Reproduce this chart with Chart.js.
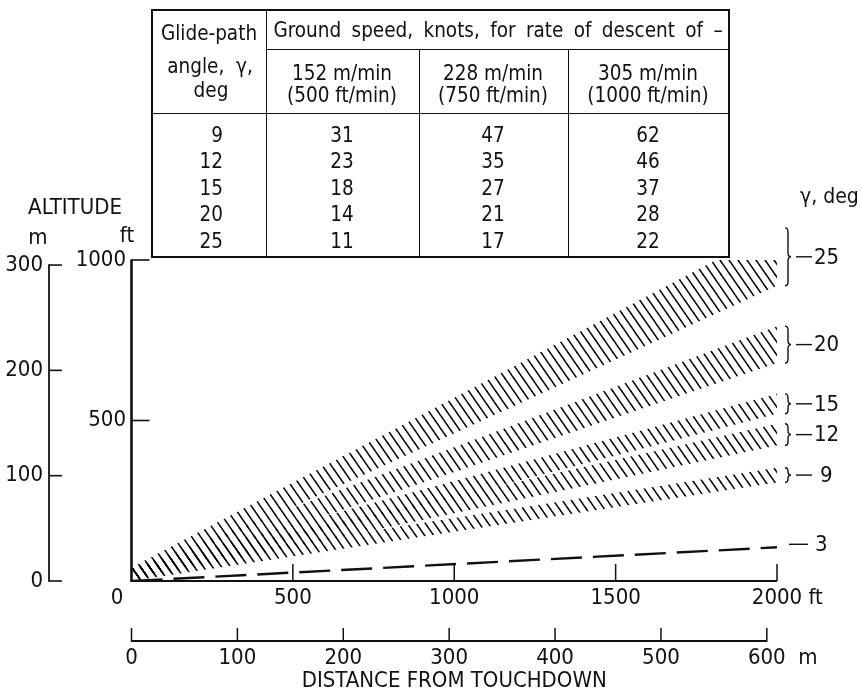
<!DOCTYPE html>
<html>
<head>
<meta charset="utf-8">
<title>Glide-path angles near touchdown</title>
<script src="https://cdn.jsdelivr.net/npm/chart.js@4.4.1/dist/chart.umd.min.js"></script>
<style>
  html, body { margin: 0; padding: 0; background: #fff; }
  #wrap { position: relative; width: 862px; height: 695px; overflow: hidden; }
  #chart { position: absolute; left: 0; top: 0; }
  #speedTable { position: absolute; left: 0; top: 0; width: 862px; height: 260px; pointer-events: none; }
  .rule { position: absolute; background: #111; }
  .cell { position: absolute; white-space: pre; color: #111; line-height: 1;
          font-family: "DejaVu Sans Condensed", "Liberation Sans Narrow", sans-serif; font-size: 20.5px; }
  .wide { word-spacing: 4.5px; }
</style>
</head>
<body>
<div id="wrap">
  <canvas id="chart" width="862" height="695"></canvas>
  <div id="speedTable"></div>
</div>
<script>
// ---- Data -------------------------------------------------------------
// Distance from touchdown (ft) at which each edge altitude is given
const distanceFt = [0, 2000];

// Glide-path bands: angle label, lower / upper edge altitude (ft) at each distance
const bandAngles  = [9, 12, 15, 20, 25];
const bandLowerFt = [[0, 307], [0, 422], [0, 521], [0, 679], [0, 920]];
const bandUpperFt = [[40, 353], [40, 490], [40, 583], [40, 794], [42, 1100]];

// Shallow reference path (dashed)
const refPathAngle = 3;
const refPathFt = [0, 105];

// Axis tick labels
const altFtTicks  = [500, 1000];
const altMTicks   = [0, 100, 200, 300];
const distFtTicks = [0, 500, 1000, 1500, 2000];
const distMTicks  = [0, 100, 200, 300, 400, 500, 600];

// Ground-speed table (knots)
const tableAngles   = [9, 12, 15, 20, 25];
const speed500fpm   = [31, 23, 18, 14, 11];
const speed750fpm   = [47, 35, 27, 21, 17];
const speed1000fpm  = [62, 46, 37, 28, 22];
const rateMetric    = ['152 m/min', '228 m/min', '305 m/min'];
const rateImperial  = ['(500 ft/min)', '(750 ft/min)', '(1000 ft/min)'];

// ---- Style ------------------------------------------------------------
const INK = '#111';
const NARROW = '"Liberation Sans Narrow", "DejaVu Sans Condensed", "Arial Narrow", sans-serif';
const FT_PER_M = 3.2808;
const TICK_FONT = 22;

Chart.defaults.font.family = NARROW;
Chart.defaults.color = INK;

// Diagonal hatching used for the glide-path bands
function makeHatch() {
  const w = 9, h = 13;
  const c = document.createElement('canvas');
  c.width = w; c.height = h;
  const g = c.getContext('2d');
  g.strokeStyle = '#000';
  g.lineWidth = 1.55;
  for (const k of [-1, 0, 1]) {
    g.beginPath();
    g.moveTo(k * w - 1, -h / w);
    g.lineTo(k * w + w + 1, h + h / w);
    g.stroke();
  }
  return g.createPattern(c, 'repeat');
}
const hatch = makeHatch();

const pts = (ys) => distanceFt.map((x, j) => ({ x, y: ys[j] }));

const datasets = [];
bandAngles.forEach((a, i) => {
  datasets.push({
    label: a + ' deg lower', data: pts(bandLowerFt[i]),
    borderColor: 'rgba(0,0,0,0)', borderWidth: 0, pointRadius: 0, fill: false
  });
  datasets.push({
    label: a + ' deg upper', data: pts(bandUpperFt[i]),
    borderColor: 'rgba(0,0,0,0)', borderWidth: 0, pointRadius: 0,
    fill: '-1', backgroundColor: hatch
  });
});
datasets.push({
  label: refPathAngle + ' deg', data: pts(refPathFt),
  borderColor: INK, borderWidth: 2.4, borderDash: [31, 11],
  pointRadius: 0, fill: false
});

function line(ctx, x1, y1, x2, y2, w) {
  ctx.lineWidth = w;
  ctx.beginPath(); ctx.moveTo(x1, y1); ctx.lineTo(x2, y2); ctx.stroke();
}

// Brace "}" spanning a band's right end
function brace(ctx, x, top, bot) {
  const mid = (top + bot) / 2;
  const c = Math.min(4, (bot - top) / 4);
  ctx.lineWidth = 1.4;
  ctx.beginPath();
  ctx.moveTo(x - 3, top);
  ctx.quadraticCurveTo(x, top, x, top + c);
  ctx.lineTo(x, mid - c);
  ctx.quadraticCurveTo(x, mid, x + 3, mid);
  ctx.quadraticCurveTo(x, mid, x, mid + c);
  ctx.lineTo(x, bot - c);
  ctx.quadraticCurveTo(x, bot, x - 3, bot);
  ctx.stroke();
}

const decor = {
  id: 'decor',
  afterDraw(chart) {
    const { ctx, chartArea } = chart;
    const { x, x2, y, y2 } = chart.scales;
    ctx.save();
    ctx.strokeStyle = INK;
    ctx.fillStyle = INK;
    ctx.lineCap = 'butt';

    const x0 = x.getPixelForValue(0);
    const y0 = y.getPixelForValue(0);

    // Altitude, ft
    line(ctx, x0, y0 + 1, x0, y.getPixelForValue(altFtTicks[altFtTicks.length - 1]) - 0.5, 2.6);
    altFtTicks.forEach(v => { const p = y.getPixelForValue(v); line(ctx, x0, p, x0 + 18, p, 1.6); });

    // Altitude, m
    const xm = y2.right;
    line(ctx, xm, y2.getPixelForValue(0) + 0.8, xm, y2.getPixelForValue(altMTicks[altMTicks.length - 1]) - 0.8, 1.8);
    altMTicks.forEach(v => { const p = y2.getPixelForValue(v); line(ctx, xm, p, xm + 13, p, 1.6); });

    // Distance, ft
    line(ctx, x0, y0, x.getPixelForValue(distFtTicks[distFtTicks.length - 1]), y0, 2.2);
    distFtTicks.slice(1).forEach(v => { const p = x.getPixelForValue(v); line(ctx, p, y0, p, y0 - 17, 1.5); });

    // Distance, m
    const ym = x2.top;
    line(ctx, x2.getPixelForValue(0), ym, x2.getPixelForValue(distMTicks[distMTicks.length - 1]), ym, 1.8);
    distMTicks.forEach(v => { const p = x2.getPixelForValue(v); line(ctx, p, ym + 0.8, p, ym - 13, 1.5); });

    // Text
    const f = (s) => s + 'px ' + NARROW;
    ctx.textBaseline = 'middle';
    ctx.font = f(TICK_FONT);
    const xLabelY = x.top + 4 + TICK_FONT * 0.6;
    const mLabelY = x2.top + 4 + TICK_FONT * 0.6;
    ctx.textAlign = 'center';
    ctx.fillText('0', x0 - 14.5, xLabelY);
    ctx.textAlign = 'left';
    const lastFt = distFtTicks[distFtTicks.length - 1];
    ctx.fillText(' ft', x.getPixelForValue(lastFt) + ctx.measureText(String(lastFt)).width / 2, xLabelY);
    const lastM = distMTicks[distMTicks.length - 1];
    ctx.fillText('  m', x2.getPixelForValue(lastM) + ctx.measureText(String(lastM)).width / 2, mLabelY);

    ctx.textAlign = 'center';
    ctx.fillText('ALTITUDE', 75, 208);
    ctx.fillText('m', 38, 238);
    ctx.fillText('ft', 127, 236);

    ctx.textAlign = 'left';
    ctx.font = f(21);
    ctx.fillText('\u03b3, deg', 800, 198);

    // Band labels on the right
    const bx = chartArea.right + 11;
    bandAngles.forEach((a, i) => {
      const last = distanceFt.length - 1;
      const top = y.getPixelForValue(bandUpperFt[i][last]);
      const bot = y.getPixelForValue(bandLowerFt[i][last]);
      const mid = (top + bot) / 2;
      brace(ctx, bx, top, bot);
      line(ctx, bx + 8, mid, bx + 24, mid, 1.4);
      ctx.font = f(TICK_FONT);
      ctx.fillText(String(a), bx + (a < 10 ? 32 : 26), mid + 1);
    });
    const ry = y.getPixelForValue(refPathFt[refPathFt.length - 1]) - 3;
    line(ctx, bx + 1, ry, bx + 20, ry, 1.4);
    ctx.fillText(String(refPathAngle), bx + 27, ry + 1);

    ctx.restore();
  }
};

const hiddenAxis = { display: false, drawTicks: false };

new Chart(document.getElementById('chart'), {
  type: 'line',
  data: { datasets },
  options: {
    responsive: false,
    animation: false,
    events: [],
    layout: { padding: { top: 260, right: 85, bottom: 0, left: 0 } },
    plugins: { legend: { display: false }, tooltip: { enabled: false } },
    scales: {
      x: {
        type: 'linear', position: 'bottom', min: 0, max: 2000, weight: 0,
        grid: hiddenAxis, border: { display: false },
        afterBuildTicks: s => { s.ticks = distFtTicks.map(value => ({ value })); },
        afterFit: s => { s.height = 60; },
        ticks: { autoSkip: false, maxRotation: 0, padding: 4, font: { size: TICK_FONT },
                 callback: v => (v === 0 ? '' : String(v)) }
      },
      x2: {
        type: 'linear', position: 'bottom', min: 0, max: 2000 / FT_PER_M, weight: 1,
        grid: hiddenAxis, border: { display: false },
        afterBuildTicks: s => { s.ticks = distMTicks.map(value => ({ value })); },
        afterFit: s => { s.height = 54; },
        ticks: { autoSkip: false, maxRotation: 0, padding: 4, font: { size: TICK_FONT },
                 callback: v => String(v) },
        title: { display: true, text: 'DISTANCE FROM TOUCHDOWN', font: { size: 22 },
                 padding: { top: 0, bottom: 1 } }
      },
      y: {
        type: 'linear', position: 'left', min: 0, max: 1000, weight: 0,
        grid: hiddenAxis, border: { display: false },
        afterBuildTicks: s => { s.ticks = altFtTicks.map(value => ({ value })); },
        afterFit: s => { s.width = 82.5; },
        ticks: { autoSkip: false, padding: 5.5, font: { size: TICK_FONT }, callback: v => String(v) }
      },
      y2: {
        type: 'linear', position: 'left', min: 0, max: 1000 / FT_PER_M, weight: 1,
        grid: hiddenAxis, border: { display: false },
        afterBuildTicks: s => { s.ticks = altMTicks.map(value => ({ value })); },
        afterFit: s => { s.width = 49; },
        ticks: { autoSkip: false, padding: 6, font: { size: TICK_FONT }, callback: v => String(v) }
      }
    }
  },
  plugins: [decor]
});

// ---- Ground-speed table ----------------------------------------------
(function buildTable() {
  const host = document.getElementById('speedTable');
  const rule = (l, t, w, h) => {
    const d = document.createElement('div');
    d.className = 'rule';
    Object.assign(d.style, { left: l + 'px', top: t + 'px', width: w + 'px', height: h + 'px' });
    host.appendChild(d);
  };
  const text = (s, x, yc, anchor, cls) => {
    const d = document.createElement('div');
    d.className = 'cell' + (cls ? ' ' + cls : '');
    d.textContent = s;
    d.style.left = x + 'px';
    d.style.top = yc + 'px';
    d.style.transform = anchor === 'right' ? 'translate(-100%, -50%)' : 'translate(-50%, -50%)';
    host.appendChild(d);
  };

  // frame and dividers
  rule(151, 9, 579, 2);
  rule(151, 256, 579, 2);
  rule(151, 9, 2, 249);
  rule(728, 9, 2, 249);
  rule(265.5, 10, 1.5, 247);
  rule(418.5, 49, 1.5, 208);
  rule(567.5, 49, 1.5, 208);
  rule(266, 48.5, 463, 1.5);
  rule(152, 112.5, 577, 1.5);

  // headings
  text('Glide-path', 209, 33);
  text('angle,  \u03b3,', 210, 66);
  text('deg', 211, 90);
  text('Ground speed, knots, for rate of descent of \u2013', 498, 30, 'center', 'wide');
  const colCenters = [342, 493, 648];
  colCenters.forEach((cx, k) => {
    text(rateMetric[k], cx, 73);
    text(rateImperial[k], cx, 95);
  });

  // rows
  const rowY = [134.5, 160.5, 187.5, 214, 240.5];
  const cols = [speed500fpm, speed750fpm, speed1000fpm];
  tableAngles.forEach((a, r) => {
    text(String(a), 223, rowY[r], 'right');
    cols.forEach((col, k) => text(String(col[r]), colCenters[k], rowY[r]));
  });
})();
</script>
</body>
</html>
